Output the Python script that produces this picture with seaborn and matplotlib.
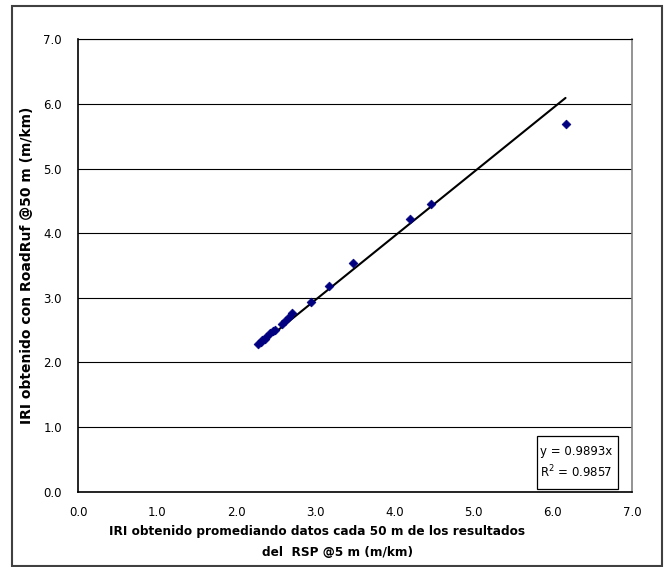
import matplotlib
matplotlib.use("Agg")
import matplotlib.pyplot as plt
import seaborn as sns
import pandas as pd
import numpy as np
from matplotlib.patches import Rectangle

# Data
rsp_iri = [2.28, 2.31, 2.33, 2.36, 2.38, 2.43, 2.46, 2.49, 2.58, 2.62, 2.66, 2.70,
           2.94, 3.17, 3.48, 4.20, 4.46, 6.16]
roadruf_iri = [2.29, 2.32, 2.35, 2.37, 2.39, 2.45, 2.48, 2.50, 2.60, 2.64, 2.71, 2.76,
               2.94, 3.19, 3.54, 4.22, 4.46, 5.69]
slope = 0.9893
r2 = 0.9857
tick_values = [0.0, 1.0, 2.0, 3.0, 4.0, 5.0, 6.0, 7.0]
tick_labels = ["0.0", "1.0", "2.0", "3.0", "4.0", "5.0", "6.0", "7.0"]
xlabel_lines = ["IRI obtenido promediando datos cada 50 m de los resultados",
                "del  RSP @5 m (m/km)"]
ylabel = "IRI obtenido con RoadRuf @50 m (m/km)"

sns.set_style("white")
plt.rcParams['font.family'] = ['DejaVu Sans']
plt.rcParams.update({"text.color": "black", "axes.labelcolor": "black",
                     "xtick.color": "black", "ytick.color": "black"})

fig = plt.figure(figsize=(6.65, 5.67), dpi=100)
ax = fig.add_axes([78/665, 1-491.7/567, (632-78)/665, (491.7-39.4)/567])

df = pd.DataFrame({"x": rsp_iri, "y": roadruf_iri})
trend = pd.DataFrame({"x": [min(rsp_iri), max(rsp_iri)]})
trend["y"] = slope * trend["x"]

sns.lineplot(data=trend, x="x", y="y", ax=ax, color="black", linewidth=1.5, zorder=3)
sns.scatterplot(data=df, x="x", y="y", ax=ax, marker="D", s=20, color="#000080",
                edgecolor="#000080", linewidth=0.5, zorder=4)

ax.set_xlim(0, 7)
ax.set_ylim(0, 7)
ax.set_xticks(tick_values)
ax.set_xticklabels(tick_labels)
ax.set_yticks(tick_values)
ax.set_yticklabels(tick_labels)
ax.yaxis.grid(True, color="black", linewidth=0.8)
ax.xaxis.grid(False)
ax.set_axisbelow(True)
ax.tick_params(axis="both", labelsize=8.5, length=3.6, width=1, direction="out",
               colors="black")
ax.tick_params(axis="x", pad=7)
ax.tick_params(axis="y", pad=8)
for side in ["left", "bottom"]:
    ax.spines[side].set_color("black")
    ax.spines[side].set_linewidth(1.2)
ax.spines["top"].set_color("black")
ax.spines["top"].set_linewidth(0.8)
ax.spines["right"].set_color("#808080")
ax.spines["right"].set_linewidth(1.2)
ax.set_xlabel("")
ax.set_ylabel("")

fig.text(27/665, 1-265.5/567, ylabel, ha="center", va="center", rotation=90,
         fontsize=10, fontweight="bold")
fig.text(317/665, 1-532/567, xlabel_lines[0], ha="center", va="center",
         fontsize=8.7, fontweight="bold")
fig.text(337/665, 1-553/567, xlabel_lines[1], ha="center", va="center",
         fontsize=8.7, fontweight="bold")

# Equation box
ax.add_patch(Rectangle((0.8285, 0.006), 0.9747-0.8285, 0.123-0.006,
                       transform=ax.transAxes, facecolor="white", edgecolor="black",
                       linewidth=0.9, zorder=5))
ax.text(0.834, 0.0878, f"y = {slope}x", transform=ax.transAxes, fontsize=8.5,
        ha="left", va="center", zorder=6)
ax.text(0.834, 0.0436, f"$\\mathregular{{R^2}}$ = {r2}", transform=ax.transAxes,
        fontsize=8.5, ha="left", va="center", zorder=6)

fig.patches.append(Rectangle((12/665, 1-566/567), (662-12)/665, (566-6)/567,
                             transform=fig.transFigure, fill=False,
                             edgecolor="#404040", linewidth=1.5))

fig.savefig("out.png", dpi=100)
